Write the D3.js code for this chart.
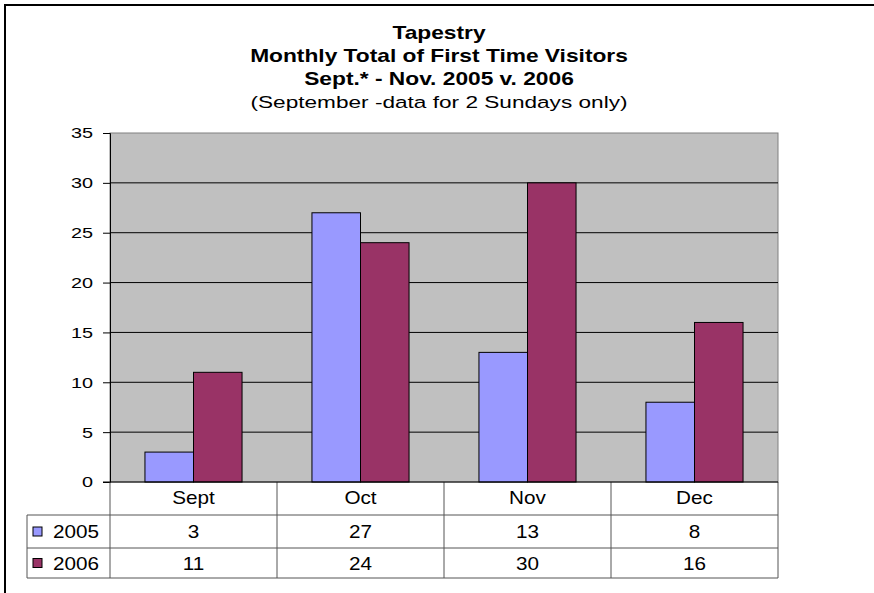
<!DOCTYPE html>
<html>
<head>
<meta charset="utf-8">
<script src="https://cdn.jsdelivr.net/npm/d3@7"></script>
<style>
  body { margin: 0; background: #fff; }
  svg { display: block; font-family: "Liberation Sans", Arial, sans-serif; }
</style>
</head>
<body>
<div id="chart"></div>
<script>
// chart data
const months = ["Sept", "Oct", "Nov", "Dec"];
const years = ["2005", "2006"];
const visits2005 = [3, 27, 13, 8];
const visits2006 = [11, 24, 30, 16];
const yTicks = [0, 5, 10, 15, 20, 25, 30, 35];
const titleLines = ["Tapestry", "Monthly Total of First Time Visitors", "Sept.* - Nov. 2005 v. 2006"];
const subTitle = "(September -data for 2 Sundays only)";

const seriesColors = { "2005": "#9999FF", "2006": "#993366" };
const seriesValues = { "2005": visits2005, "2006": visits2006 };

const width = 874, height = 593;
const margin = { top: 133, left: 110, right: 96, bottom: 111 };
const tableLeft = 27;
const rowH = [33, 33, 30];

// the original text is wider than normal Arial, so stretch it a bit
function placeText(g, x, y, str, size, sx, anchor, bold) {
  return g.append("text")
    .attr("transform", `translate(${x},${y}) scale(${sx},1)`)
    .attr("text-anchor", anchor)
    .attr("font-size", size)
    .attr("font-weight", bold ? "bold" : "normal")
    .attr("fill", "#000")
    .text(str);
}

const svg = d3.select("#chart").append("svg")
  .attr("width", width)
  .attr("height", height);

// outer frame
svg.append("path")
  .attr("d", `M5,${height} V5 H${width}`)
  .attr("fill", "none")
  .attr("stroke", "#000")
  .attr("stroke-width", 2);

// titles
const title = svg.append("g");
titleLines.forEach((t, i) => {
  placeText(title, 439, 38.5 + i * 23, t, 18.5, 1.23, "middle", true);
});
placeText(title, 439, 107.5, subTitle, 17, 1.33, "middle", false);

const x0 = d3.scaleBand()
  .domain(months)
  .range([margin.left, width - margin.right]);

const x1 = d3.scaleBand()
  .domain(years)
  .range([0, x0.bandwidth()])
  .paddingOuter(0.72);

const y = d3.scaleLinear()
  .domain([0, 35])
  .range([height - margin.bottom, margin.top]);

// plot background
svg.append("rect")
  .attr("x", margin.left)
  .attr("y", y(35))
  .attr("width", width - margin.left - margin.right)
  .attr("height", y(0) - y(35))
  .attr("fill", "#C0C0C0")
  .attr("stroke", "#808080");

// gridlines
svg.append("g")
  .selectAll("line")
  .data(yTicks.filter(d => d > 0 && d < 35))
  .join("line")
  .attr("x1", margin.left)
  .attr("x2", width - margin.right)
  .attr("y1", d => y(d))
  .attr("y2", d => y(d))
  .attr("stroke", "#000");

// bars
svg.append("g")
  .selectAll("g")
  .data(months)
  .join("g")
  .attr("transform", d => `translate(${x0(d)},0)`)
  .selectAll("rect")
  .data((m, i) => years.map(yr => ({ yr, v: seriesValues[yr][i] })))
  .join("rect")
  .attr("x", d => x1(d.yr))
  .attr("y", d => y(d.v))
  .attr("width", x1.bandwidth())
  .attr("height", d => y(0) - y(d.v))
  .attr("fill", d => seriesColors[d.yr])
  .attr("stroke", "#000");

// y axis
const tickSx = 1.28;
const yAxis = svg.append("g")
  .attr("transform", `translate(${margin.left},0)`)
  .call(d3.axisLeft(y).tickValues(yTicks).tickSize(7).tickPadding(10));
yAxis.select(".domain").attr("stroke", "#000");
yAxis.selectAll(".tick line").attr("stroke", "#000");
yAxis.selectAll("text")
  .attr("font-size", 15.5)
  .attr("font-family", "Liberation Sans, Arial, sans-serif")
  .attr("fill", "#000")
  .attr("x", -17 / tickSx)
  .attr("transform", `scale(${tickSx},1)`);

// data table
const tTop = y(0);
const rowY = [tTop, tTop + rowH[0], tTop + rowH[0] + rowH[1], tTop + rowH[0] + rowH[1] + rowH[2]];
const right = width - margin.right;
const table = svg.append("g").attr("stroke", "#555").attr("fill", "none");

// horizontal rules
[1, 2, 3].forEach(r => {
  table.append("line").attr("x1", tableLeft).attr("x2", right).attr("y1", rowY[r]).attr("y2", rowY[r]);
});
// vertical rules
table.append("line").attr("x1", tableLeft).attr("x2", tableLeft).attr("y1", rowY[1]).attr("y2", rowY[3]);
table.selectAll("line.v")
  .data(months)
  .join("line")
  .attr("class", "v")
  .attr("x1", d => x0(d))
  .attr("x2", d => x0(d))
  .attr("y1", rowY[0])
  .attr("y2", rowY[3]);
table.append("line").attr("x1", right).attr("x2", right).attr("y1", rowY[0]).attr("y2", rowY[3]);

// axis baseline on top of table
svg.append("line")
  .attr("x1", margin.left - 7)
  .attr("x2", right)
  .attr("y1", y(0))
  .attr("y2", y(0))
  .attr("stroke", "#000");

const cells = svg.append("g");
const cellSize = 18, cellSx = 1.15;

// month header
months.forEach(m => {
  placeText(cells, x0(m) + x0.bandwidth() / 2, (rowY[0] + rowY[1]) / 2 + 5.5, m, cellSize, cellSx, "middle", false);
});

// series rows
years.forEach((yr, r) => {
  const cy = (rowY[r + 1] + rowY[r + 2]) / 2;
  cells.append("rect")
    .attr("x", 33)
    .attr("y", cy - 4.5)
    .attr("width", 9)
    .attr("height", 9)
    .attr("fill", seriesColors[yr])
    .attr("stroke", "#000");
  placeText(cells, 53, cy + 6.5, yr, cellSize, cellSx, "start", false);
  months.forEach((m, i) => {
    placeText(cells, x0(m) + x0.bandwidth() / 2, cy + 6.5, seriesValues[yr][i], cellSize, cellSx, "middle", false);
  });
});
</script>
</body>
</html>
